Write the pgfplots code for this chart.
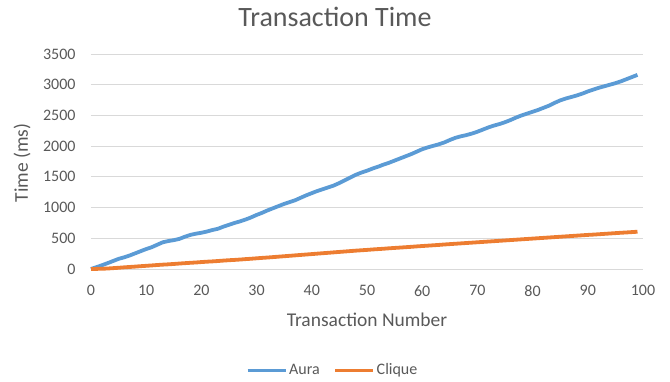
\documentclass[border=0pt]{standalone}
\usepackage{pgfplots}
\pgfplotsset{compat=1.18}
\usepackage{fontspec}
\setmainfont{Carlito}
\definecolor{aura}{HTML}{5B9BD5}
\definecolor{clique}{HTML}{ED7D31}
\definecolor{txt}{HTML}{595959}
\definecolor{gridc}{HTML}{D9D9D9}
\begin{document}
\begin{tikzpicture}
\begin{axis}[
  scale only axis,
  width=552bp, height=215bp,
  xmin=0, xmax=100, ymin=0, ymax=3500,
  xtick={0,10,20,30,40,50,60,70,80,90,100},
  ytick={0,500,1000,1500,2000,2500,3000,3500},
  axis line style={draw=none},
  tick style={draw=none},
  ymajorgrids,
  grid style={gridc, line width=0.9bp},
  every tick label/.style={font=\fontsize{16bp}{18bp}\selectfont, text=txt},
  yticklabel style={xshift=-12bp},
  xticklabel style={yshift=-13bp},
  scaled y ticks=false,
  /pgf/number format/assume math mode=true,
  /pgf/number format/1000 sep={},
  xlabel={Transaction Number},
  ylabel={Time (ms)},
  label style={font=\fontsize{19.5bp}{22bp}\selectfont, text=txt},
  xlabel style={at={(axis description cs:0.5,-0.237)}, anchor=center},
  ylabel style={at={(axis description cs:-0.125,0.493)}, anchor=center, rotate=0},
  legend columns=2,
  legend style={draw=none, fill=none, at={(axis description cs:0.438,-0.47)}, anchor=center,
    font=\fontsize{16bp}{18bp}\selectfont, text=txt,
    /tikz/every even column/.append style={column sep=12bp}},
  legend image code/.code={\draw[#1, line width=3bp] (0bp,0bp) -- (38bp,0bp);},
  clip=false,
]
\addplot[aura, line width=3.8bp, line join=round] coordinates {
(0,0) (1,30) (2,62) (3,95) (4,130) (5,165) (6,190) (7,220) (8,255) (9,290)
(10,325) (11,355) (12,395) (13,435) (14,455) (15,470) (16,490) (17,525) (18,555) (19,575)
(20,590) (21,610) (22,635) (23,655) (24,690) (25,720) (26,750) (27,775) (28,805) (29,840)
(30,880) (31,915) (32,955) (33,990) (34,1025) (35,1060) (36,1090) (37,1120) (38,1160) (39,1200)
(40,1235) (41,1270) (42,1300) (43,1330) (44,1360) (45,1400) (46,1445) (47,1490) (48,1535) (49,1570)
(50,1600) (51,1635) (52,1665) (53,1700) (54,1730) (55,1765) (56,1800) (57,1835) (58,1870) (59,1910)
(60,1950) (61,1980) (62,2005) (63,2030) (64,2060) (65,2100) (66,2135) (67,2160) (68,2180) (69,2205)
(70,2235) (71,2270) (72,2305) (73,2335) (74,2360) (75,2390) (76,2425) (77,2465) (78,2500) (79,2530)
(80,2560) (81,2590) (82,2625) (83,2660) (84,2705) (85,2745) (86,2775) (87,2800) (88,2825) (89,2855)
(90,2890) (91,2920) (92,2950) (93,2975) (94,3000) (95,3025) (96,3055) (97,3090) (98,3125) (99,3160)
};
\addlegendentry{Aura}
\addplot[clique, line width=3.8bp, line join=round] coordinates {
(0,0) (1,2) (2,4) (3,8) (4,14) (5,20) (6,27) (7,33) (8,39) (9,46)
(10,52) (11,58) (12,65) (13,71) (14,76) (15,82) (16,89) (17,95) (18,101) (19,106)
(20,113) (21,119) (22,124) (23,130) (24,137) (25,143) (26,148) (27,154) (28,161) (29,167)
(30,174) (31,181) (32,187) (33,194) (34,201) (35,208) (36,215) (37,222) (38,229) (39,236)
(40,243) (41,250) (42,257) (43,264) (44,271) (45,278) (46,285) (47,292) (48,299) (49,305)
(50,311) (51,318) (52,324) (53,330) (54,337) (55,343) (56,349) (57,355) (58,361) (59,368)
(60,374) (61,380) (62,386) (63,392) (64,399) (65,405) (66,411) (67,417) (68,423) (69,429)
(70,435) (71,441) (72,447) (73,453) (74,459) (75,465) (76,471) (77,477) (78,483) (79,489)
(80,495) (81,501) (82,507) (83,513) (84,519) (85,525) (86,531) (87,537) (88,543) (89,549)
(90,555) (91,560) (92,566) (93,572) (94,578) (95,584) (96,590) (97,595) (98,601) (99,607)
};
\addlegendentry{Clique}
\end{axis}
\node[text=txt, font=\fontsize{28bp}{32bp}\selectfont] at (244bp,252bp) {Transaction Time};
\path[use as bounding box] (-91bp,-113bp) rectangle (579bp,269bp);
\end{tikzpicture}
\end{document}
